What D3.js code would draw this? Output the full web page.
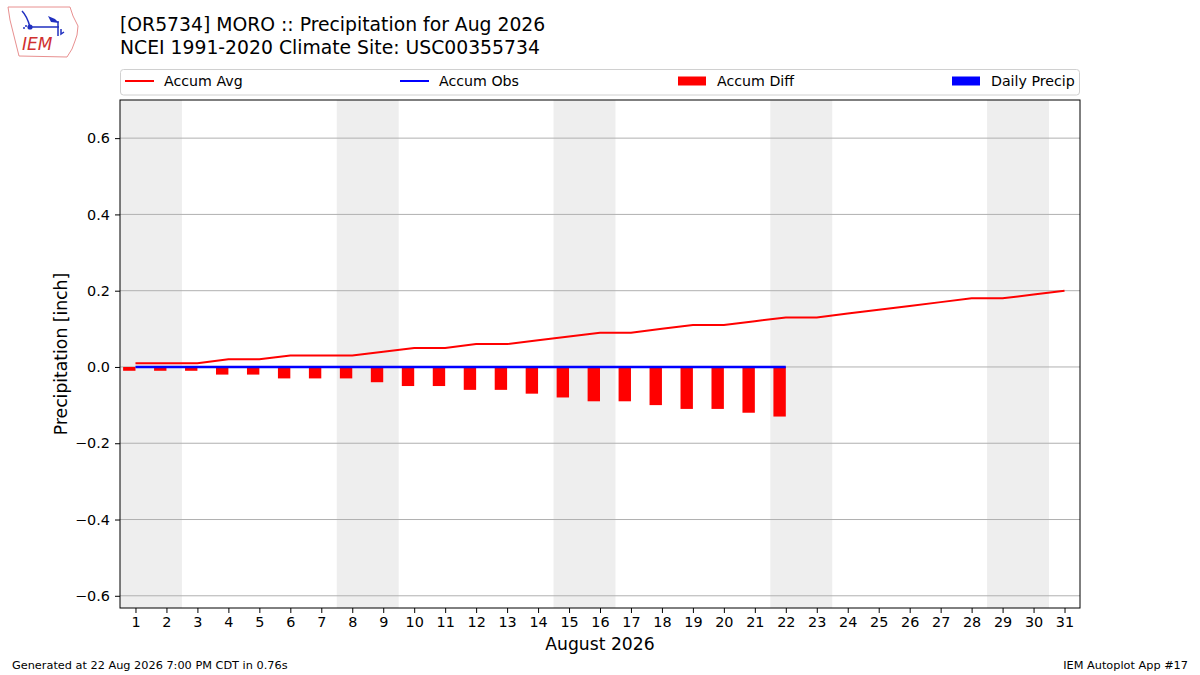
<!DOCTYPE html>
<html>
<head>
<meta charset="utf-8">
<script src="https://cdn.jsdelivr.net/npm/d3@7"></script>
<style>
  body { margin: 0; background: #fff; }
  svg text { font-family: "DejaVu Sans", sans-serif; }
</style>
</head>
<body>
<div id="chart"></div>
<script>
// values
var days = d3.range(1, 32)
var accumAvg = [0.01, 0.01, 0.01, 0.02, 0.02, 0.03, 0.03, 0.03, 0.04, 0.05, 0.05,
                0.06, 0.06, 0.07, 0.08, 0.09, 0.09, 0.10, 0.11, 0.11, 0.12, 0.13,
                0.13, 0.14, 0.15, 0.16, 0.17, 0.18, 0.18, 0.19, 0.20]
var obsDays = d3.range(1, 23)
var accumObs = [0, 0, 0, 0, 0, 0, 0, 0, 0, 0, 0, 0, 0, 0, 0, 0, 0, 0, 0, 0, 0, 0]
var dailyPrecip = [0, 0, 0, 0, 0, 0, 0, 0, 0, 0, 0, 0, 0, 0, 0, 0, 0, 0, 0, 0, 0, 0]
var accumDiff = [-0.01, -0.01, -0.01, -0.02, -0.02, -0.03, -0.03, -0.03, -0.04, -0.05, -0.05,
                 -0.06, -0.06, -0.07, -0.08, -0.09, -0.09, -0.10, -0.11, -0.11, -0.12, -0.13]
var weekendStarts = [1, 8, 15, 22, 29]   // Saturdays of Aug 2026
var yTicks = [-0.6, -0.4, -0.2, 0.0, 0.2, 0.4, 0.6]
var legendItems = [
  {label: "Accum Avg", color: "red", kind: "line", x: 125},
  {label: "Accum Obs", color: "blue", kind: "line", x: 400},
  {label: "Accum Diff", color: "red", kind: "rect", x: 678},
  {label: "Daily Precip", color: "blue", kind: "rect", x: 952}
]

var W = 1200, H = 675
var m = {left: 120, right: 1080, top: 100, bottom: 608}

var svg = d3.select("#chart").append("svg")
            .attr("width", W)
            .attr("height", H)

var x = d3.scaleLinear().domain([0.5, 31.5]).range([m.left, m.right])
var y = d3.scaleLinear().domain([-0.632, 0.7]).range([m.bottom, m.top])

svg.append("clipPath").attr("id", "plotclip")
  .append("rect")
  .attr("x", m.left).attr("y", m.top)
  .attr("width", m.right - m.left).attr("height", m.bottom - m.top)

var plot = svg.append("g").attr("clip-path", "url(#plotclip)")

// weekend shading
plot.selectAll("rect.weekend").data(weekendStarts)
  .enter().append("rect")
    .attr("class", "weekend")
    .attr("x", d => x(d - 0.5))
    .attr("width", d => x(d + 1.5) - x(d - 0.5))
    .attr("y", m.top)
    .attr("height", m.bottom - m.top)
    .attr("fill", "#eeeeee")

// horizontal grid
plot.selectAll("line.grid").data(yTicks)
  .enter().append("line")
    .attr("x1", m.left).attr("x2", m.right)
    .attr("y1", d => y(d)).attr("y2", d => y(d))
    .attr("stroke", "#b0b0b0")
    .attr("stroke-width", 1)

// accum diff bars (aligned to the left of each day)
plot.selectAll("rect.diff").data(accumDiff)
  .enter().append("rect")
    .attr("x", (d, i) => x(obsDays[i] - 0.4))
    .attr("width", x(1.4) - x(1))
    .attr("y", d => y(Math.max(0, d)))
    .attr("height", d => Math.abs(y(d) - y(0)))
    .attr("fill", "red")

// daily precip bars (to the right of each day)
plot.selectAll("rect.daily").data(dailyPrecip)
  .enter().append("rect")
    .attr("x", (d, i) => x(obsDays[i]))
    .attr("width", x(1.4) - x(1))
    .attr("y", d => y(Math.max(0, d)))
    .attr("height", d => Math.abs(y(d) - y(0)))
    .attr("fill", "blue")

var line = d3.line().x(d => x(d[0])).y(d => y(d[1]))

plot.append("path")
  .datum(days.map((d, i) => [d, accumAvg[i]]))
  .attr("d", line)
  .attr("fill", "none")
  .attr("stroke", "red")
  .attr("stroke-width", 2)

plot.append("path")
  .datum(obsDays.map((d, i) => [d, accumObs[i]]))
  .attr("d", line)
  .attr("fill", "none")
  .attr("stroke", "blue")
  .attr("stroke-width", 2.5)

// axes
var fmt = d => d3.format(".1f")(d).replace("-", "\u2212")
svg.append("g")
  .attr("transform", "translate(" + m.left + ",0)")
  .call(d3.axisLeft(y).tickValues(yTicks).tickFormat(fmt).tickSize(5).tickPadding(5))
svg.append("g")
  .attr("transform", "translate(0," + m.bottom + ")")
  .call(d3.axisBottom(x).tickValues(days).tickFormat(d3.format("d")).tickSize(5).tickPadding(4))

svg.selectAll(".domain").remove()
svg.selectAll(".tick line").attr("stroke", "#000").attr("stroke-width", 1)
svg.selectAll(".tick text").attr("font-size", 14.4).attr("fill", "#000")
  .attr("font-family", "DejaVu Sans")

svg.append("rect")
  .attr("x", m.left).attr("y", m.top)
  .attr("width", m.right - m.left).attr("height", m.bottom - m.top)
  .attr("fill", "none").attr("stroke", "#000").attr("stroke-width", 1)

svg.append("text")
  .attr("transform", "translate(67," + ((m.top + m.bottom) / 2) + ") rotate(-90)")
  .attr("text-anchor", "middle")
  .attr("font-size", 17.2)
  .text("Precipitation [inch]")

svg.append("text")
  .attr("x", (m.left + m.right) / 2).attr("y", 650)
  .attr("text-anchor", "middle")
  .attr("font-size", 17.2)
  .text("August 2026")

// legend
var leg = svg.append("g")
leg.append("rect")
  .attr("x", 120.5).attr("y", 69.5)
  .attr("width", 959).attr("height", 25.5)
  .attr("rx", 3)
  .attr("fill", "#fff").attr("stroke", "#d0d0d0")

legendItems.forEach(function(it) {
  if (it.kind == "line") {
    leg.append("line")
      .attr("x1", it.x).attr("x2", it.x + 29)
      .attr("y1", 81).attr("y2", 81)
      .attr("stroke", it.color).attr("stroke-width", 2)
  } else {
    leg.append("rect")
      .attr("x", it.x).attr("y", 76.5)
      .attr("width", 28).attr("height", 9)
      .attr("fill", it.color)
  }
  leg.append("text")
    .attr("x", it.x + 39).attr("y", 86)
    .attr("font-size", 14.2)
    .text(it.label)
})

// titles
svg.append("text").attr("x", 120).attr("y", 31).attr("font-size", 18.8)
  .text("[OR5734] MORO :: Precipitation for Aug 2026")
svg.append("text").attr("x", 120).attr("y", 54).attr("font-size", 18.8)
  .text("NCEI 1991-2020 Climate Site: USC00355734")

// footer
svg.append("text").attr("x", 12).attr("y", 669).attr("font-size", 11.3)
  .text("Generated at 22 Aug 2026 7:00 PM CDT in 0.76s")
svg.append("text").attr("x", 1188).attr("y", 669).attr("font-size", 11.3)
  .attr("text-anchor", "end")
  .text("IEM Autoplot App #17")

// IEM logo (rough)
var logo = svg.append("g")
logo.append("path")
  .attr("d", "M8,7 L70,7 L73,16 L78,26 L77,35 L75,41 L72,49 L67,57 L19,56 L15,40 L10,20 Z")
  .attr("fill", "none").attr("stroke", "#e89090").attr("stroke-width", 1)
logo.append("path")
  .attr("d", "M30,27 L59,27 M58,21 L58,36 M22,11 Q27,16 30,27 M61,29 L61,34 L64,32")
  .attr("fill", "none").attr("stroke", "#2030c0").attr("stroke-width", 1.5)
logo.append("circle").attr("cx", 30).attr("cy", 27).attr("r", 2.6).attr("fill", "#2030c0")
logo.append("circle").attr("cx", 24).attr("cy", 28).attr("r", 1).attr("fill", "#2030c0")
logo.append("circle").attr("cx", 26).attr("cy", 26).attr("r", 1).attr("fill", "#2030c0")
logo.append("path").attr("d", "M48,16 L55,19 L59,23 L51,22 Z").attr("fill", "#2030c0")
logo.append("text").attr("x", 22).attr("y", 50)
  .attr("font-family", "Liberation Serif").attr("font-style", "italic")
  .attr("font-size", 17).attr("fill", "#d03030")
  .text("IEM")
</script>
</body>
</html>
